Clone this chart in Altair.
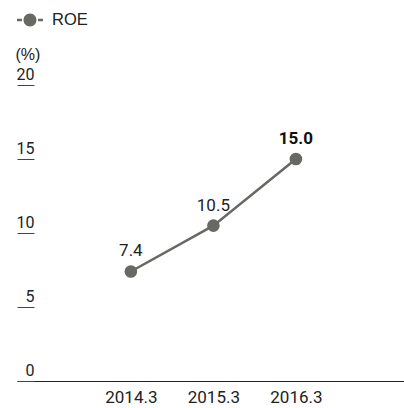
import altair as alt
import pandas as pd

years = ["2014.3", "2015.3", "2016.3"]
roe = [7.4, 10.5, 15.0]
labels = ["7.4", "10.5", "15.0"]
bold = [False, False, True]
series = "ROE"
y_ticks = [0, 5, 10, 15, 20]

df = pd.DataFrame({"idx": list(range(len(years))), "year": years, "roe": roe,
                   "label": labels, "bold": bold, "series": series})

GRAY = "#686864"
FONT = "Roboto"
SANS = "Liberation Sans"
year_expr = "[" + ",".join("'%s'" % y for y in years) + "][datum.value]"

x = alt.X("idx:Q", scale=alt.Scale(domain=[-1.38, 3.31], nice=False, zero=False),
          axis=alt.Axis(title=None, ticks=False, values=list(range(len(years))),
                        labelExpr=year_expr, labelAngle=0, labelPadding=8,
                        labelFontSize=17, labelColor="#222", labelFont=FONT,
                        grid=False, domainColor="#222", domainWidth=1))
y = alt.Y("roe:Q", scale=alt.Scale(domain=[0, 20], nice=False),
          axis=alt.Axis(title="(%)", titleAngle=0, titleAlign="left", titleBaseline="middle",
                        titleX=-19, titleY=-31, titleFont=SANS, titleFontSize=16,
                        titleFontWeight="normal", titleColor="#222",
                        values=y_ticks, offset=-17, tickSize=17, tickColor="#444",
                        tickWidth=1, domain=False, grid=False,
                        labelAlign="right", labelPadding=-17, labelBaseline="alphabetic",
                        labelOffset=-6, labelFontSize=16, labelColor="#222", labelFont=FONT))

line = alt.Chart(df).mark_line(color=GRAY, strokeWidth=2.5).encode(x=x, y=y)

legend_path = ("M-1,-0.1H-0.62V0.1H-1Z M0.62,-0.1H1V0.1H0.62Z "
               "M-0.5,0A0.5,0.5,0,1,0,0.5,0A0.5,0.5,0,1,0,-0.5,0Z")

points = alt.Chart(df).mark_point(filled=True, size=160, opacity=1).encode(
    x=x, y=y,
    color=alt.Color("series:N", scale=alt.Scale(range=[GRAY]),
                    legend=alt.Legend(title=None, orient="none", legendX=0, legendY=-78,
                                      symbolType=legend_path, symbolSize=676,
                                      symbolStrokeWidth=0, labelFontSize=16.5,
                                      labelFont=SANS, labelColor="#222", labelOffset=9,
                                      padding=0))
)

text_normal = alt.Chart(df).transform_filter("!datum.bold").mark_text(
    baseline="alphabetic", dy=-15, fontSize=17, font=FONT, color="#222"
).encode(x=x, y=y, text="label:N")

text_bold = alt.Chart(df).transform_filter("datum.bold").mark_text(
    baseline="alphabetic", dy=-15, fontSize=17, font=FONT, color="#111", fontWeight="bold"
).encode(x=x, y=y, text="label:N")

chart = alt.layer(line, points, text_normal, text_bold).properties(
    width=387, height=296,
    autosize=alt.AutoSizeParams(type="none"),
    padding={"left": 17, "top": 85, "right": 0, "bottom": 27},
    background="white",
).configure_view(stroke=None)

chart.save("out.html", embed_options={"renderer": "svg", "actions": False})
